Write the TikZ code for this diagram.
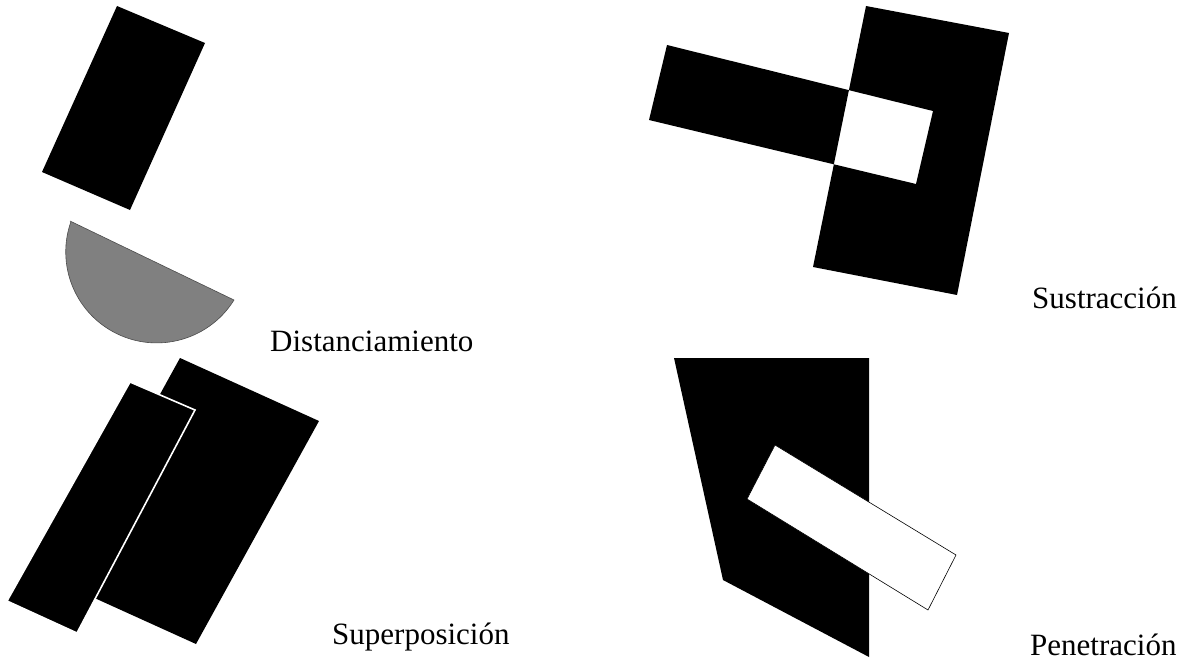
\documentclass[tikz,border=0pt]{standalone}
\usepackage{fontspec}
\setmainfont{Liberation Serif}
\usetikzlibrary{positioning}

\begin{document}
\begin{tikzpicture}[
    x=1pt, y=-1pt,
    solid/.style={fill=black},
    halfdisc/.style={fill=gray, draw=black!70, line width=0.6pt},
    cutout/.style={fill=white, draw=black, line width=0.6pt},
    overlay/.style={fill=black, draw=white, line width=1.6pt, line join=miter},
    caption/.style={font=\fontsize{31}{37}\selectfont, inner sep=0pt, anchor=base west}
]

% marco
\path[use as bounding box, fill=white] (0,0) rectangle (1190,666);

% Distanciamiento
\fill[solid] (117,6) -- (205,43) -- (130,210) -- (42,172) -- cycle;
\draw[halfdisc] (70,221) -- (234,300) arc[start angle=31.9, end angle=199.5, radius=91] -- cycle;
\node[caption] (dist) at (270,351) {Distanciamiento};

% Superposicion
\fill[solid] (180,358) -- (319,421) -- (196,644) -- (57,581) -- cycle;
\draw[overlay] (130,382) -- (195,410) -- (77,633) -- (7,601) -- cycle;
\node[caption] (super) at (332,644) {Superposición};

% Sustraccion
\fill[solid, even odd rule] (866,6) -- (1009,33) -- (957,295) -- (813,267) -- cycle
    (667,45) -- (933,111) -- (916,184) -- (649,120) -- cycle;
\node[caption] (sust) at (1032,308) {Sustracción};

% Penetracion
\fill[solid] (674,358) -- (869,358) -- (869,657) -- (723,580) -- cycle;
\draw[cutout] (775,445) -- (956,555) -- (928,610) -- (747,499) -- cycle;
\node[caption] (pene) at (1030,655) {Penetración};

\end{tikzpicture}
\end{document}
